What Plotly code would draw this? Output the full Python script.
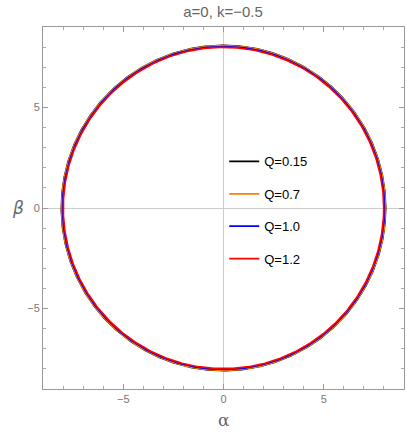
import numpy as np
import plotly.graph_objects as go

labels = ["Q=0.15", "Q=0.7", "Q=1.0", "Q=1.2"]
radii = [8.085, 8.075, 8.03, 7.99]
colors = ["#000000", "#FF8000", "#0000FF", "#FF0000"]
x_ticks = [-5, 0, 5]
y_ticks = [-5, 0, 5]

theta = np.linspace(0, 2 * np.pi, 721)

fig = go.Figure()
for i, (lab, r, c) in enumerate(zip(labels, radii, colors)):
    fig.add_trace(go.Scatter(
        x=r * np.cos(theta), y=r * np.sin(theta), mode="lines",
        line=dict(color=c, width=1.7), name=lab, legendgroup=f"g{i}",
    ))

axis_common = dict(
    range=[-9, 9], showgrid=False, zeroline=True, zerolinecolor="#cccccc",
    zerolinewidth=1, showline=True, linecolor="#999999", linewidth=1,
    mirror="ticks", ticks="inside", ticklen=5, tickcolor="#999999",
    tickfont=dict(family="Liberation Sans, Arial", size=11, color="#777777"),
    minor=dict(dtick=1, ticks="inside", ticklen=3, tickcolor="#aaaaaa"),
)
fig.update_layout(
    width=407, height=432,
    margin=dict(l=43, r=3, t=27, b=43),
    paper_bgcolor="white", plot_bgcolor="white",
    title=dict(text="a=0, k=\u22120.5", x=0.548, xanchor="center", y=0.972, yanchor="middle",
               font=dict(family="Liberation Sans, Arial", size=15, color="#666666")),
    legend=dict(x=0.502, y=0.67, xanchor="left", yanchor="top", bgcolor="rgba(0,0,0,0)",
                tracegroupgap=12.5, itemwidth=30,
                font=dict(family="Liberation Sans, Arial", size=13, color="#000000")),
    showlegend=True,
)
fig.update_xaxes(**axis_common, tickvals=x_ticks, ticktext=["\u22125", "0", "5"])
fig.update_yaxes(**axis_common, tickvals=y_ticks, ticktext=["\u22125", "0", "5"])

fig.add_annotation(text="\u03b1", xref="paper", yref="paper", x=0.5, y=-0.085,
                   showarrow=False, yanchor="middle",
                   font=dict(family="DejaVu Serif", size=17, color="#666666"))
fig.add_annotation(text="<i>\u03b2</i>", xref="paper", yref="paper", x=-0.07, y=0.5,
                   showarrow=False, xanchor="center",
                   font=dict(family="DejaVu Sans", size=17, color="#666666"))

fig.write_html("out.html", config={"displayModeBar": False})

with open("out.html", "r", encoding="utf-8") as f:
    html = f.read()
html = html.replace("<body>", '<body style="margin:0;padding:0;overflow:hidden">', 1)
with open("out.html", "w", encoding="utf-8") as f:
    f.write(html)
